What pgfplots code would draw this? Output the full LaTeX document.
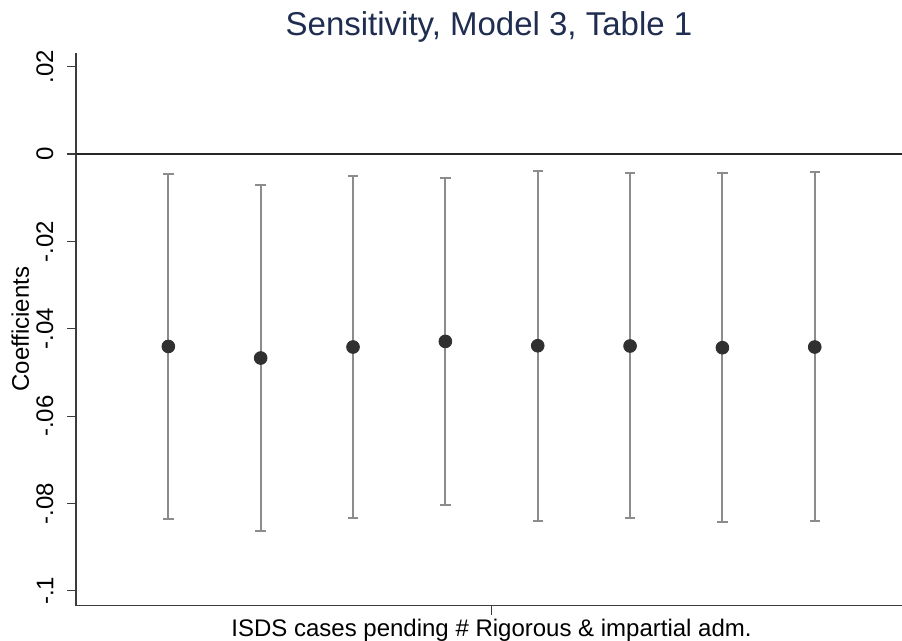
\documentclass[border=0pt]{standalone}
\usepackage{pgfplots}
\pgfplotsset{compat=1.18}
\usepackage{pgfplotstable}
\usepackage{fontspec}
\setmainfont{Liberation Sans}
\definecolor{titleblue}{RGB}{30,45,80}
\definecolor{cigray}{RGB}{140,140,140}
\definecolor{dotc}{RGB}{48,48,48}
\definecolor{axc}{RGB}{60,60,60}

\pgfplotstableread{
x  y        ep       em
1 -0.04405  0.03948  0.03945
2 -0.04670  0.03968  0.03963
3 -0.04418  0.03922  0.03925
4 -0.04290  0.03741  0.03749
5 -0.04389  0.04007  0.04006
6 -0.04395  0.03954  0.03948
7 -0.04434  0.03993  0.03993
8 -0.04418  0.04000  0.03993
}\coefdata

\begin{document}
\begin{tikzpicture}
\begin{axis}[
  anchor=south west, at={(0,0)},
  scale only axis, width=413pt, height=276.5pt,
  xmin=0, xmax=8.945, ymin=-0.1034, ymax=0.0232,
  axis x line*=bottom, axis y line*=left,
  axis line style={axc, line width=0.6pt},
  tick style={axc, line width=0.6pt},
  tick align=outside,
  major tick length=4.6pt,
  xtick={4.5}, xticklabels={ISDS cases pending \# Rigorous \& impartial adm.},
  ytick={-0.1,-0.08,-0.06,-0.04,-0.02,0,0.02},
  yticklabels={-.1,-.08,-.06,-.04,-.02,0,.02},
  /pgf/number format/assume math mode=true,
  yticklabel style={xshift=-6.5pt, rotate=90, anchor=south, inner sep=0pt, font=\fontsize{12}{14}\selectfont},
  xticklabel style={anchor=base, inner sep=0pt, yshift=-11pt, font=\fontsize{12}{14}\selectfont},
  ylabel={Coefficients},
  every axis y label/.style={at={([xshift=-23.5pt]axis description cs:0,0.5)}, rotate=90, anchor=base, font=\fontsize{12}{14}\selectfont},
  title={Sensitivity, Model 3, Table 1},
  title style={at={([yshift=2.35pt]axis description cs:0.5,1)}, anchor=base, text=titleblue, font=\fontsize{16.5}{18}\selectfont},
  clip=false,
]
\addplot[black!85, line width=0.9pt, forget plot] coordinates {(0,0) (8.945,0)};
\addplot[only marks, mark=none,
  error bars/.cd, y dir=both, y explicit,
  error bar style={draw=cigray, line width=1pt},
  error mark options={rotate=90, draw=cigray, mark size=2.6pt, line width=1pt}]
  table[x=x, y=y, y error plus=ep, y error minus=em] {\coefdata};
\addplot[only marks, mark=*, mark size=3.2pt, draw=dotc, fill=dotc] table[x=x, y=y] {\coefdata};
\end{axis}
\pgfresetboundingbox
\path[use as bounding box] (-38pt,-17.65pt) rectangle (413pt,302.85pt);
\end{tikzpicture}
\end{document}
